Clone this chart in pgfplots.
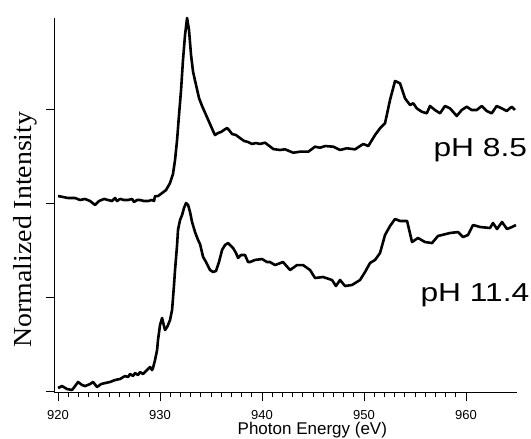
\documentclass[border=0pt]{standalone}
\usepackage{fontspec}
\setmainfont{Liberation Sans}
\newfontfamily\timesfont{Liberation Serif}
\usepackage{graphicx}
\usepackage{pgfplots}
\pgfplotsset{compat=1.18}

% pH 8.5 spectrum (offset by +2)
\pgfplotstableread{
x y
920.00 2.074
920.49 2.064
920.98 2.053
921.67 2.053
922.16 2.032
922.65 2.043
923.14 2.021
923.63 1.979
924.02 2.021
924.51 2.043
924.90 2.032
925.29 2.021
925.59 2.053
925.78 2.021
926.08 2.043
926.47 2.032
926.86 2.032
927.25 2.043
927.45 2.011
927.75 2.032
928.04 2.032
928.43 2.021
928.82 2.021
929.22 2.032
929.41 2.021
929.51 2.074
929.80 2.074
930.20 2.106
930.59 2.138
930.98 2.213
931.27 2.309
931.47 2.457
931.67 2.670
931.86 2.936
932.06 3.202
932.25 3.521
932.45 3.787
932.65 3.968
932.84 3.840
933.04 3.574
933.24 3.394
933.53 3.255
933.82 3.117
934.12 3.032
934.51 2.936
934.90 2.840
935.20 2.766
935.39 2.723
935.69 2.745
935.98 2.755
936.27 2.777
936.57 2.798
936.76 2.777
937.06 2.734
937.45 2.723
937.84 2.691
938.24 2.660
938.63 2.649
939.02 2.628
939.41 2.638
939.80 2.628
940.29 2.642
941.11 2.574
941.76 2.564
942.25 2.571
943.07 2.535
943.73 2.546
944.54 2.546
945.20 2.599
945.69 2.588
946.18 2.606
947.00 2.599
947.65 2.564
948.30 2.582
949.12 2.571
949.93 2.628
950.42 2.606
951.08 2.723
951.57 2.795
952.06 2.848
952.55 3.096
953.04 3.298
953.53 3.273
954.02 3.114
954.51 3.043
954.83 3.061
955.17 3.007
955.66 2.971
956.15 2.954
956.47 3.032
956.96 2.989
957.45 2.954
957.94 3.032
958.43 3.007
959.09 2.926
959.58 2.989
960.07 3.024
960.56 2.989
961.05 2.989
961.54 3.032
962.03 2.979
962.52 2.954
963.01 3.032
963.50 3.007
963.99 2.979
964.48 3.024
964.80 2.989
}\phlow

% pH 11.4 spectrum
\pgfplotstableread{
x y
920.00 0.032
920.39 0.053
920.88 0.021
921.37 0.011
921.67 0.053
921.96 0.096
922.35 0.064
922.65 0.053
923.14 0.074
923.43 0.096
923.82 0.043
924.22 0.074
924.61 0.085
925.10 0.096
925.59 0.117
926.08 0.128
926.57 0.160
926.86 0.149
927.06 0.181
927.35 0.160
927.55 0.191
927.84 0.170
928.04 0.202
928.33 0.181
928.53 0.202
928.82 0.234
929.02 0.255
929.22 0.223
929.31 0.245
929.51 0.330
929.71 0.436
929.80 0.543
930.00 0.702
930.20 0.777
930.39 0.691
930.49 0.649
930.69 0.681
930.78 0.702
930.98 0.755
931.18 0.862
931.37 1.128
931.47 1.287
931.67 1.553
931.76 1.713
931.96 1.819
932.16 1.872
932.35 1.947
932.55 2.000
932.75 1.979
932.94 1.904
933.14 1.798
933.43 1.691
933.73 1.606
933.92 1.564
934.22 1.426
934.51 1.372
934.90 1.287
935.20 1.266
935.49 1.277
935.78 1.372
936.08 1.500
936.37 1.553
936.67 1.574
936.96 1.543
937.16 1.521
937.45 1.468
937.65 1.415
937.94 1.447
938.33 1.447
938.63 1.372
938.82 1.372
939.31 1.394
940.00 1.404
940.49 1.372
940.78 1.372
941.27 1.340
942.06 1.372
942.75 1.287
943.43 1.340
944.02 1.340
944.71 1.287
945.20 1.202
945.98 1.213
946.86 1.181
947.25 1.117
947.65 1.181
948.14 1.117
948.82 1.128
949.61 1.181
950.10 1.266
950.59 1.362
951.08 1.394
951.57 1.468
952.06 1.660
952.55 1.755
953.04 1.830
953.53 1.809
954.22 1.809
954.71 1.585
955.29 1.628
955.98 1.585
956.67 1.574
957.25 1.649
958.43 1.681
959.22 1.691
959.71 1.638
960.20 1.660
960.69 1.766
961.37 1.745
962.35 1.734
962.65 1.787
963.04 1.723
963.53 1.798
964.02 1.723
964.51 1.745
964.90 1.766
}\phhigh

\begin{document}
\begin{tikzpicture}
\begin{axis}[
    scale only axis,
    width=462pt, height=375pt,
    xmin=919.7, xmax=965, ymin=-0.021, ymax=3.968,
    axis x line*=bottom, axis y line*=left,
    axis line style={-, line width=1pt, black},
    xtick={920,930,...,960}, minor x tick num=9,
    ytick={0,1,2,3}, yticklabels={},
    tick align=outside,
    major tick length=8.5pt, minor tick length=4.5pt,
    tick style={line width=0.9pt, black},
    /pgf/number format/assume math mode=true,
    /pgf/number format/1000 sep={},
    xticklabel style={font=\fontsize{13}{15}\selectfont, yshift=-5pt},
    clip=false,
]
\addplot[black, line width=2.6pt, line join=round] table {\phlow};
\addplot[black, line width=2.6pt, line join=round] table {\phhigh};

\node[anchor=base west, font=\fontsize{26}{30}\selectfont] at (axis cs:956.47,2.5) {\scalebox{1.22}[1]{pH 8.5}};
\node[anchor=base west, font=\fontsize{26}{30}\selectfont] at (axis cs:955.2,0.947) {\scalebox{1.22}[1]{pH 11.4}};
\node[anchor=base, font=\fontsize{17}{20}\selectfont] at ([yshift=-41.5pt]rel axis cs:0.557,0) {Photon Energy (eV)};
\node[rotate=90, anchor=base, font=\timesfont\fontsize{26}{30}\selectfont] at ([xshift=-23pt]rel axis cs:0,0.436) {\scalebox{1.07}[1]{Normalized Intensity}};
\end{axis}
\pgfresetboundingbox
\useasboundingbox (-55pt,-46pt) rectangle (476pt,393pt);
\end{tikzpicture}
\end{document}
